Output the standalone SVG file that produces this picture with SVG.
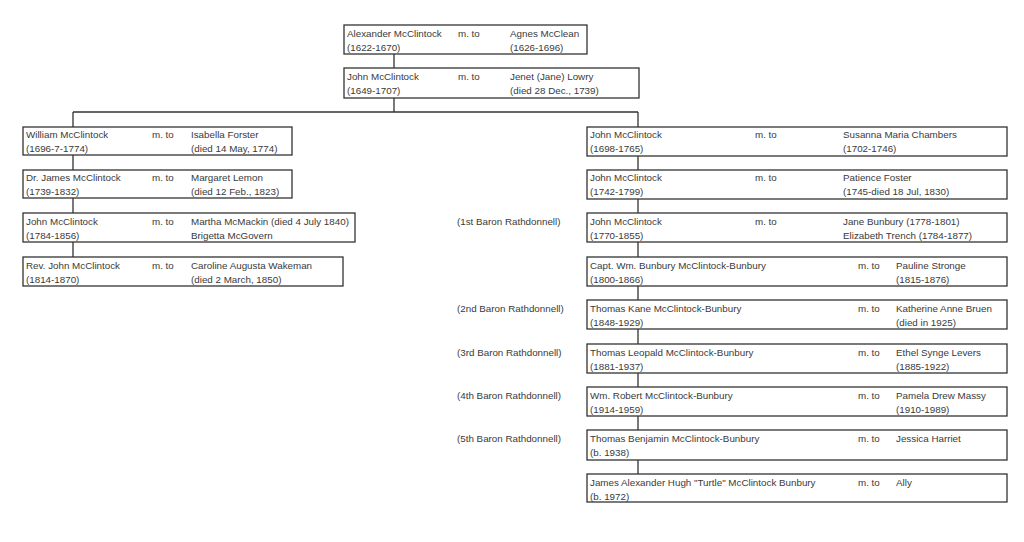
<svg xmlns="http://www.w3.org/2000/svg" width="1024" height="542" viewBox="0 0 1024 542">
<style>
.box{fill:#fff;stroke:#333;stroke-width:1.3}
.con{fill:none;stroke:#333;stroke-width:1.3}
text{font-family:"Liberation Sans",Arial,sans-serif;font-size:9.8px;fill:#3a3a3a}
</style>
<rect width="1024" height="542" fill="#fff"/>
<g id="connectors">
<path class="con" d="M394 54V68M394 98V112M73 112H638M73 112V257M638 112V475"/>
</g>
<g id="n-alexander">
<rect class="box" x="344" y="25" width="243" height="29"/>
<text x="347" y="37">Alexander McClintock</text><text x="347" y="51">(1622-1670)</text>
<text x="458" y="37">m. to</text>
<text x="510" y="37">Agnes McClean</text><text x="510" y="51">(1626-1696)</text>
</g>
<g id="n-john1649">
<rect class="box" x="344" y="68" width="295" height="30"/>
<text x="347" y="80">John McClintock</text><text x="347" y="94">(1649-1707)</text>
<text x="458" y="80">m. to</text>
<text x="510" y="80">Jenet (Jane) Lowry</text><text x="510" y="94">(died 28 Dec., 1739)</text>
</g>
<g id="n-william">
<rect class="box" x="23" y="127" width="269" height="28"/>
<text x="26" y="138">William McClintock</text><text x="26" y="152">(1696-7-1774)</text>
<text x="152" y="138">m. to</text>
<text x="191" y="138">Isabella Forster</text><text x="191" y="152">(died 14 May, 1774)</text>
</g>
<g id="n-james">
<rect class="box" x="23" y="170" width="269" height="28"/>
<text x="26" y="181">Dr. James McClintock</text><text x="26" y="195">(1739-1832)</text>
<text x="152" y="181">m. to</text>
<text x="191" y="181">Margaret Lemon</text><text x="191" y="195">(died 12 Feb., 1823)</text>
</g>
<g id="n-john1784">
<rect class="box" x="23" y="213" width="332" height="29"/>
<text x="26" y="225">John McClintock</text><text x="26" y="239">(1784-1856)</text>
<text x="152" y="225">m. to</text>
<text x="191" y="225">Martha McMackin (died 4 July 1840)</text><text x="191" y="239">Brigetta McGovern</text>
</g>
<g id="n-revjohn">
<rect class="box" x="23" y="257" width="320" height="29"/>
<text x="26" y="269">Rev. John McClintock</text><text x="26" y="283">(1814-1870)</text>
<text x="152" y="269">m. to</text>
<text x="191" y="269">Caroline Augusta Wakeman</text><text x="191" y="283">(died 2 March, 1850)</text>
</g>
<g id="n-john1698">
<rect class="box" x="587" y="127" width="420" height="29"/>
<text x="590" y="138">John McClintock</text><text x="590" y="152">(1698-1765)</text>
<text x="755" y="138">m. to</text>
<text x="843" y="138">Susanna Maria Chambers</text><text x="843" y="152">(1702-1746)</text>
</g>
<g id="n-john1742">
<rect class="box" x="587" y="170" width="420" height="29"/>
<text x="590" y="181">John McClintock</text><text x="590" y="195">(1742-1799)</text>
<text x="755" y="181">m. to</text>
<text x="843" y="181">Patience Foster</text><text x="843" y="195">(1745-died 18 Jul, 1830)</text>
</g>
<g id="n-john1770">
<text x="457" y="225">(1st Baron Rathdonnell)</text>
<rect class="box" x="587" y="213" width="420" height="29"/>
<text x="590" y="225">John McClintock</text><text x="590" y="239">(1770-1855)</text>
<text x="755" y="225">m. to</text>
<text x="843" y="225">Jane Bunbury (1778-1801)</text><text x="843" y="239">Elizabeth Trench (1784-1877)</text>
</g>
<g id="n-capt">
<rect class="box" x="587" y="257" width="420" height="29"/>
<text x="590" y="269">Capt. Wm. Bunbury McClintock-Bunbury</text><text x="590" y="283">(1800-1866)</text>
<text x="858" y="269">m. to</text>
<text x="896" y="269">Pauline Stronge</text><text x="896" y="283">(1815-1876)</text>
</g>
<g id="n-thomaskane">
<text x="457" y="312">(2nd Baron Rathdonnell)</text>
<rect class="box" x="587" y="300" width="420" height="29"/>
<text x="590" y="312">Thomas Kane McClintock-Bunbury</text><text x="590" y="326">(1848-1929)</text>
<text x="858" y="312">m. to</text>
<text x="896" y="312">Katherine Anne Bruen</text><text x="896" y="326">(died in 1925)</text>
</g>
<g id="n-thomasleopald">
<text x="457" y="356">(3rd Baron Rathdonnell)</text>
<rect class="box" x="587" y="344" width="420" height="29"/>
<text x="590" y="356">Thomas Leopald McClintock-Bunbury</text><text x="590" y="370">(1881-1937)</text>
<text x="858" y="356">m. to</text>
<text x="896" y="356">Ethel Synge Levers</text><text x="896" y="370">(1885-1922)</text>
</g>
<g id="n-wmrobert">
<text x="457" y="399">(4th Baron Rathdonnell)</text>
<rect class="box" x="587" y="387" width="420" height="29"/>
<text x="590" y="399">Wm. Robert McClintock-Bunbury</text><text x="590" y="413">(1914-1959)</text>
<text x="858" y="399">m. to</text>
<text x="896" y="399">Pamela Drew Massy</text><text x="896" y="413">(1910-1989)</text>
</g>
<g id="n-thomasbenjamin">
<text x="457" y="442">(5th Baron Rathdonnell)</text>
<rect class="box" x="587" y="430" width="420" height="30"/>
<text x="590" y="442">Thomas Benjamin McClintock-Bunbury</text><text x="590" y="456">(b. 1938)</text>
<text x="858" y="442">m. to</text>
<text x="896" y="442">Jessica Harriet</text>
</g>
<g id="n-james1972">
<rect class="box" x="587" y="474" width="420" height="28"/>
<text x="590" y="486">James Alexander Hugh "Turtle" McClintock Bunbury</text><text x="590" y="500">(b. 1972)</text>
<text x="858" y="486">m. to</text>
<text x="896" y="486">Ally</text>
</g>
</svg>
